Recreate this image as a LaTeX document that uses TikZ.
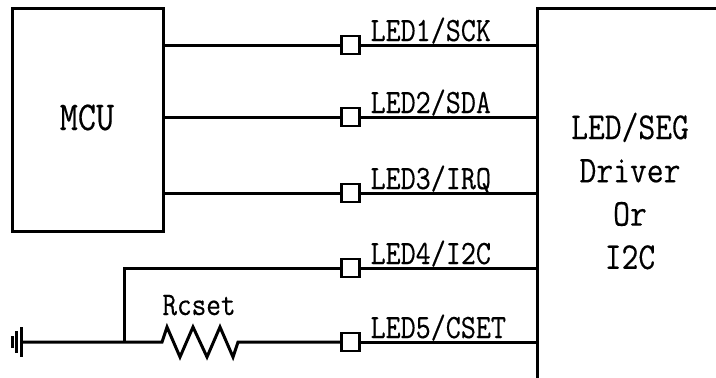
\documentclass[tikz,border=0pt]{standalone}
\usepackage{fontspec}
\newfontfamily\pinfont[FakeStretch=0.86, FakeBold=0.3]{Latin Modern Mono}

\begin{document}
\begin{tikzpicture}[x=1pt, y=-1pt, line width=3pt,
	pad/.style = {draw, fill = white, rectangle, minimum size=18pt, inner sep=0pt, line width=2.5pt},
	pin/.style = {font=\fontsize{34}{42}\selectfont\pinfont, anchor=base west, inner sep=0pt}]
				\useasboundingbox (0,0) rectangle (716,378);
				\node[draw, minimum width=151pt, minimum height=223pt] (MCU) at (87.5,119.5) {};
				\node[font=\fontsize{41}{48}\selectfont\pinfont, anchor=base] (M) at (87,130) {MCU};
				\begin{scope}
					\clip (0,0) rectangle (716,378);
					\node[draw, minimum width=223pt, minimum height=412pt] (DRV) at (648.5,214) {};
				\end{scope}
				\node[font=\fontsize{38}{43.3}\selectfont\pinfont, align=center] (D) at (630,191) {LED/SEG\\Driver\\Or\\I2C};
				\node[pad] (P1) at (350.5,45) {};
				\node[pad] (P2) at (350.5,117) {};
				\node[pad] (P3) at (350.5,193) {};
				\node[pad] (P4) at (350.5,268) {};
				\node[pad] (P5) at (350.5,342) {};
				\node[pin] (L1) at (369,41) {LED1/SCK};
				\node[pin] (L2) at (369,113) {LED2/SDA};
				\node[pin] (L3) at (369,189) {LED3/IRQ};
				\node[pin] (L4) at (369,264) {LED4/I2C};
				\node[pin] (L5) at (369,338) {LED5/CSET};
				\draw (MCU.east |- P1) -- (P1.west) (P1.east) -- (P1 -| DRV.west);
				\draw (MCU.east |- P2) -- (P2.west) (P2.east) -- (P2 -| DRV.west);
				\draw (MCU.east |- P3) -- (P3.west) (P3.east) -- (P3 -| DRV.west);
				\draw (P4.east) -- (P4 -| DRV.west);
				\draw (P5.east) -- (P5 -| DRV.west);
				\coordinate (G) at (21,342);
				\coordinate (J) at (124,342);
				\coordinate (R1) at (162,342);
				\coordinate (R2) at (238,342);
				\draw (J) |- (P4.west);
				\draw (G) -- (R1) -- ++(5,-15) -- ++(13,30) -- ++(13,-30) -- ++(14,30) -- ++(13,-30) -- ++(13,30) -- (R2) -- (P5.west);
				\node[font=\fontsize{33}{38}\selectfont\pinfont, anchor=base] (RC) at (199,315) {Rcset};
				\draw (G) ++(0,-15) -- ++(0,30);
				\draw (G) ++(-5,-11) -- ++(0,22);
				\draw (G) ++(-9,-6) -- ++(0,12);
			\end{tikzpicture}
\end{document}
